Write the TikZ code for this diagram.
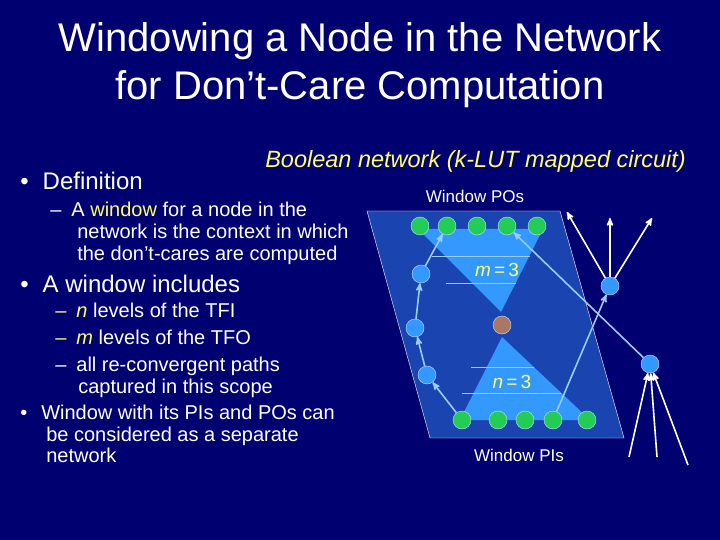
\documentclass[tikz,border=0pt]{standalone}
\usepackage{fontspec}
\setmainfont{Liberation Sans}
\usetikzlibrary{arrows,positioning}
\definecolor{slidebg}{HTML}{000070}
\definecolor{winblue}{HTML}{1A44B0}
\definecolor{conelight}{HTML}{3399FF}
\definecolor{gatebl}{HTML}{3399FF}
\definecolor{gategr}{HTML}{22CC55}
\definecolor{gatebr}{HTML}{AA7766}
\definecolor{hiyel}{HTML}{FFFF66}
\definecolor{linkbl}{HTML}{99CCFF}
\begin{document}
\begin{tikzpicture}[x=1pt,y=-1pt
  ,>=stealth'
  ,semithick]
  \tikzstyle{txt}=[anchor=base west,inner sep=0pt,text=white,font=\fontsize{20}{20}\selectfont]
  \tikzstyle{big}=[txt,font=\fontsize{24}{24}\selectfont]
  \tikzstyle{gate}=[circle,draw=white!70!gatebl,thin,minimum size=18pt,inner sep=0pt]
  \tikzstyle{po}=[gate,fill=gategr]
  \tikzstyle{mid}=[gate,fill=gatebl]
  \tikzstyle{link}=[->,draw=linkbl,line width=1.6pt]
  \tikzstyle{wire}=[->,draw=white,line width=1.6pt]

  \fill[slidebg] (0,0) rectangle (720,540);
  \useasboundingbox (0,0) rectangle (720,540);

  % title
  \node[text=white,font=\fontsize{40}{40}\selectfont,anchor=base] (t1) at (360,52) {Windowing a Node in the Network};
  \node[text=white,font=\fontsize{40}{40}\selectfont,anchor=base] (t2) at (360,100) {for Don't-Care Computation};

  % left text
  \node[big] (b1) at (20,190) {\textbullet\hspace{14pt}Definition};
  \node[txt] (d1) at (50,217) {--\hspace{10pt}A \textcolor{hiyel}{window} for a node in the};
  \node[txt] (d2) at (77,239) {network is the context in which};
  \node[txt] (d3) at (77,260) {the don't-cares are computed};
  \node[big] (b2) at (20,292) {\textbullet\hspace{14pt}A window includes};
  \node[txt] (i1) at (55,317) {\textcolor{hiyel}{--}\hspace{10pt}\textcolor{hiyel}{\itshape n} levels of the TFI};
  \node[txt] (i2) at (55,344) {\textcolor{hiyel}{--}\hspace{10pt}\textcolor{hiyel}{\itshape m} levels of the TFO};
  \node[txt] (i3) at (55,371) {--\hspace{10pt}all re-convergent paths};
  \node[txt] (i4) at (78,393) {captured in this scope};
  \node[txt] (w1) at (20,419) {\textbullet\hspace{14pt}Window with its PIs and POs can};
  \node[txt] (w2) at (46,441) {be considered as a separate};
  \node[txt] (w3) at (46,462) {network};

  % diagram
  \node[txt,text=hiyel,font=\fontsize{23.5}{24}\selectfont\itshape] (bn) at (265,168) {Boolean network (k-LUT mapped circuit)};
  \fill[winblue] (367,211) -- (560,211) -- (624,438) -- (430,438) -- cycle;
  \draw[white,thin] (367,211) -- (560,211) -- (624,438) -- (430,438) -- cycle;
  \fill[conelight] (418,229) -- (543,229) -- (501,312) -- cycle;
  \draw[white!50!conelight] (432,256) -- (530,256) (446,283) -- (516,283);
  \fill[conelight] (502,337) -- (590,420) -- (460,420) -- cycle;
  \draw[white!50!conelight] (471,367) -- (534,367) (462,393) -- (561,393);
  \node[text=hiyel,font=\fontsize{19}{19}\selectfont] (mt) at (497,270) {\itshape m\upshape\,=\,3};
  \node[text=hiyel,font=\fontsize{19}{19}\selectfont] (nt) at (512,382) {\itshape n\upshape\,=\,3};
  \node[text=white,font=\fontsize{17}{17}\selectfont] (wpo) at (475,196) {Window POs};
  \node[text=white,font=\fontsize{17}{17}\selectfont] (wpi) at (519,455) {Window PIs};

  \foreach \x [count=\i] in {420,447,477,507,537}
    \node[po] (o\i) at (\x,226) {};
  \foreach \x [count=\i] in {462,498,525,553,587}
    \node[po] (p\i) at (\x,420) {};
  \node[gate,fill=gatebr] (nd) at (502,325) {};
  \node[mid] (l1) at (421,274) {};
  \node[mid] (l2) at (415,328) {};
  \node[mid] (l3) at (427,375) {};
  \node[mid] (r1) at (610,286) {};
  \node[mid] (r2) at (650,364) {};
  \coordinate (ra) at (567,212);
  \coordinate (rb) at (610,218);
  \coordinate (rc) at (652,218);
  \coordinate (sa) at (629,457);
  \coordinate (sb) at (657,457);
  \coordinate (sc) at (688,465);

  \draw[link] (p1) -- (l3);
  \draw[link] (l3) -- (l2);
  \draw[link] (l2) -- (l1);
  \draw[link] (l1) -- (o2);
  \draw[link] (p4) -- (r1);
  \draw[link] (r2) -- (o4);
  \draw[wire] (r1) -- (ra);
  \draw[wire] (r1) -- (rb);
  \draw[wire] (r1) -- (rc);
  \draw[wire] (sa) -- (r2);
  \draw[wire] (sb) -- (r2);
  \draw[wire] (sc) -- (r2);
\end{tikzpicture}
\end{document}
